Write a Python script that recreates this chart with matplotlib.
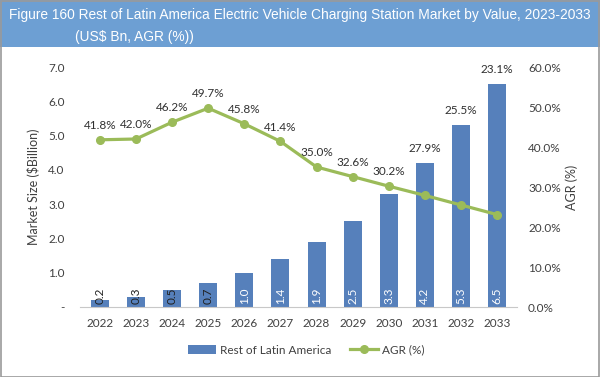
import matplotlib.pyplot as plt
from matplotlib.patches import Rectangle

# data
years = ["2022", "2023", "2024", "2025", "2026", "2027",
         "2028", "2029", "2030", "2031", "2032", "2033"]
market = [0.2, 0.3, 0.5, 0.7, 1.0, 1.4, 1.9, 2.5, 3.3, 4.2, 5.3, 6.5]
agr = [41.8, 42.0, 46.2, 49.7, 45.8, 41.4, 35.0, 32.6, 30.2, 27.9, 25.5, 23.1]

bar_color = "#5680bb"
line_color = "#9bbb59"
plt.rcParams['font.family'] = ['Lato', 'DejaVu Sans']

fig = plt.figure(figsize=(6, 3.77), dpi=100)

# title band and outer frame
fig.patches.append(Rectangle((0, 1 - 47 / 377), 1, 47 / 377, transform=fig.transFigure,
                             facecolor="#6d9fd3", edgecolor="none", zorder=0))
fig.patches.append(Rectangle((0.001, 0.001), 0.997, 0.997, transform=fig.transFigure,
                             facecolor="none", edgecolor="#9a9a9a", lw=1.2, zorder=5))
fig.text(0.5, 1 - 15 / 377, "Figure 160 Rest of Latin America Electric Vehicle Charging Station Market by Value, 2023-2033",
         ha="center", va="center", color="white", fontsize=9.95, family="Liberation Sans")
fig.text(0.125, 1 - 37 / 377, "(US$ Bn, AGR (%))", ha="left", va="center",
         color="white", fontsize=9.95, family="Liberation Sans")

ax = fig.add_axes([80 / 600, 1 - 307 / 377, 437 / 600, 240 / 377])
x = range(len(years))
ax.bar(x, market, width=0.5, color=bar_color, label="Rest of Latin America", zorder=2)
ax.set_xlim(-0.55, len(years) - 0.45)
ax.set_ylim(0, 7.0)
ax.set_yticks([0, 1, 2, 3, 4, 5, 6, 7])
ax.set_yticklabels(["-", "1.0", "2.0", "3.0", "4.0", "5.0", "6.0", "7.0"])
ax.set_xticks(list(x))
ax.set_xticklabels(years)
ax.set_ylabel("Market Size ($Billion)", fontsize=9, color="#404040", labelpad=6)
for s in ["top", "right", "left"]:
    ax.spines[s].set_visible(False)
ax.spines["bottom"].set_color("#c8c8c8")
ax.tick_params(length=0, labelsize=8.5, colors="#404040")
ax.tick_params(axis="x", pad=8)
ax.tick_params(axis="y", pad=11)

for i, v in enumerate(market):
    ax.text(i, 0.08, f"{v:.1f}", rotation=90, ha="center", va="bottom",
            fontsize=8.5, color="white" if v >= 1 else "#202020", zorder=4)

ax2 = ax.twinx()
ax2.plot(list(x), agr, color=line_color, lw=2.3, marker="o", ms=5.5, label="AGR (%)", zorder=3)
ax2.set_ylim(0, 60)
ax2.set_yticks(range(0, 61, 10))
ax2.set_yticklabels([f"{t:.1f}%" for t in range(0, 61, 10)])
for s in ["top", "right", "left", "bottom"]:
    ax2.spines[s].set_visible(False)
ax2.tick_params(length=0, labelsize=8.5, colors="#404040", pad=8)
ax2.set_ylabel("AGR (%)", fontsize=9, color="#404040", labelpad=3)

for i, v in enumerate(agr):
    if i >= 9:
        y = market[i] / 7.0 * 60 + 2.2
    else:
        y = v + 2.2
    ax2.text(i, y, f"{v:.1f}%", ha="center", va="bottom", fontsize=8.5, color="#303030")

h1, l1 = ax.get_legend_handles_labels()
h2, l2 = ax2.get_legend_handles_labels()
fig.legend(h1 + h2, l1 + l2, loc="center", bbox_to_anchor=(0.51, 1 - 350 / 377), ncol=2,
           frameon=False, fontsize=8.5, handlelength=2.4, handletextpad=0.3,
           columnspacing=1.6, labelcolor="#404040")

fig.savefig("out.png", dpi=100)
